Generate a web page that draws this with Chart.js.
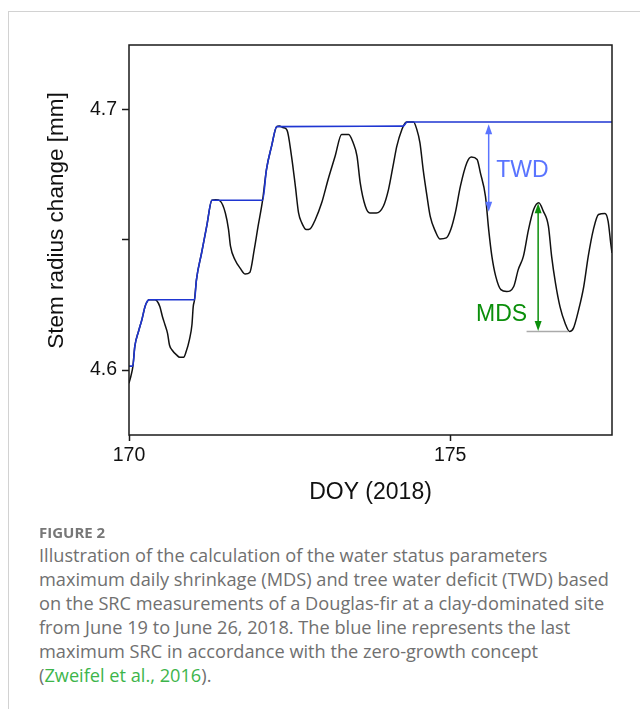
<!DOCTYPE html>
<html>
<head>
<meta charset="utf-8">
<title>Figure 2 - stem radius change</title>
<script src="https://cdn.jsdelivr.net/npm/chart.js@4.4.1/dist/chart.umd.min.js"></script>
<style>
    html, body { margin: 0; padding: 0; background: #fff; }
    body { width: 640px; height: 709px; position: relative; overflow: hidden; }
    #frame {
        position: absolute; left: 8px; top: 11px; right: 0; bottom: 0;
        border-left: 1px solid #d2d2d2; border-top: 1px solid #d2d2d2;
    }
    #chart { position: absolute; left: 0; top: 0; }
    .fig-label {
        position: absolute; left: 39px; top: 522px;
        font: 700 15px 'Open Sans', sans-serif; color: #777;
    }
    .caption {
        position: absolute; left: 39px; top: 544px;
        font: 400 18.2px/23.9px 'Open Sans', sans-serif; color: #707070;
        white-space: nowrap;
    }
    .caption span { display: block; }
    .caption a { color: #3db54b; text-decoration: none; }
</style>
</head>
<body>
<div id="frame"></div>
<canvas id="chart" width="640" height="530"></canvas>
<div class="fig-label">FIGURE 2</div>
<div class="caption">
    <span>Illustration of the calculation of the water status parameters</span>
    <span>maximum daily shrinkage (MDS) and tree water deficit (TWD) based</span>
    <span>on the SRC measurements of a Douglas-fir at a clay-dominated site</span>
    <span>from June 19 to June 26, 2018. The blue line represents the last</span>
    <span>maximum SRC in accordance with the zero-growth concept</span>
    <span>(<a>Zweifel et al., 2016</a>).</span>
</div>
<script>
// stem radius change (black) - DOY / mm
const doySrc = [
    170.00, 170.03, 170.06, 170.09, 170.15, 170.20, 170.25, 170.29, 170.32, 170.40,
    170.43, 170.48, 170.52, 170.56, 170.60, 170.63, 170.67, 170.74, 170.79, 170.85,
    170.89, 170.94, 170.98, 171.00, 171.02, 171.05, 171.13, 171.21, 171.29, 171.35,
    171.42, 171.50, 171.55, 171.58, 171.65, 171.73, 171.81, 171.88, 171.95, 172.01,
    172.08, 172.14, 172.22, 172.30, 172.34, 172.40, 172.46, 172.53, 172.59, 172.64,
    172.69, 172.76, 172.82, 172.90, 173.00, 173.10, 173.21, 173.31, 173.42, 173.49,
    173.55, 173.60, 173.68, 173.75, 173.85, 173.96, 174.04, 174.12, 174.17, 174.25,
    174.30, 174.33, 174.43, 174.48, 174.53, 174.58, 174.64, 174.69, 174.77, 174.84,
    174.94, 175.01, 175.08, 175.16, 175.26, 175.33, 175.42, 175.47, 175.55, 175.60,
    175.65, 175.71, 175.79, 175.88, 175.99, 176.06, 176.14, 176.22, 176.30, 176.38,
    176.45, 176.53, 176.58, 176.64, 176.71, 176.79, 176.86, 176.92, 177.00, 177.08,
    177.15, 177.23, 177.31, 177.41, 177.46, 177.50, 177.52
];
const srcValues = [
    4.5949, 4.5977, 4.6013, 4.6090, 4.6150, 4.6193, 4.6244, 4.6266, 4.6270, 4.6270,
    4.6267, 4.6244, 4.6206, 4.6174, 4.6141, 4.6096, 4.6077, 4.6058, 4.6049, 4.6049,
    4.6071, 4.6116, 4.6174, 4.6244, 4.6270, 4.6347, 4.6450, 4.6553, 4.6653, 4.6655,
    4.6650, 4.6604, 4.6540, 4.6476, 4.6424, 4.6392, 4.6369, 4.6375, 4.6463, 4.6553,
    4.6653, 4.6771, 4.6861, 4.6936, 4.6938, 4.6932, 4.6923, 4.6823, 4.6707, 4.6604,
    4.6566, 4.6540, 4.6543, 4.6578, 4.6643, 4.6733, 4.6823, 4.6906, 4.6906, 4.6874,
    4.6823, 4.6720, 4.6630, 4.6604, 4.6604, 4.6630, 4.6694, 4.6797, 4.6861, 4.6926,
    4.6950, 4.6954, 4.6954, 4.6926, 4.6874, 4.6771, 4.6668, 4.6591, 4.6533, 4.6504,
    4.6508, 4.6540, 4.6604, 4.6707, 4.6797, 4.6819, 4.6810, 4.6759, 4.6668, 4.6540,
    4.6437, 4.6360, 4.6309, 4.6302, 4.6321, 4.6386, 4.6437, 4.6540, 4.6617, 4.6643,
    4.6611, 4.6553, 4.6437, 4.6334, 4.6244, 4.6180, 4.6148, 4.6161, 4.6231, 4.6321,
    4.6437, 4.6540, 4.6598, 4.6602, 4.6572, 4.6488, 4.6450
];

// last maximum SRC (blue, zero-growth line)
const doyMax = [
    170.00, 170.06, 170.09, 170.15, 170.20, 170.25, 170.29, 170.32, 171.02, 171.05,
    171.13, 171.21, 171.29, 172.08, 172.14, 172.22, 172.30, 174.27, 174.33, 177.52
];
const maxValues = [
    4.6015, 4.6015, 4.6090, 4.6150, 4.6193, 4.6244, 4.6266, 4.6270, 4.6270, 4.6347,
    4.6450, 4.6553, 4.6653, 4.6653, 4.6771, 4.6861, 4.6936, 4.6938, 4.6954, 4.6954
];

// axes
const xTicks = [170, 175];
const yTicks = [4.6, 4.65, 4.7];
const yLabelled = [4.6, 4.7];
const xTitle = 'DOY (2018)';
const yTitle = 'Stem radius change [mm]';

// annotations: [doy, from, to] in data units
const twdArrow = [175.60, 4.6945, 4.6609];
const mdsArrow = [176.37, 4.6641, 4.6150];
const mdsBase = [176.19, 176.84, 4.6148];
const twdLabel = ['TWD', 4.67435];
const mdsLabel = ['MDS', 4.61885];

const FONT = "'Liberation Sans', Arial, Helvetica, sans-serif";
const TWD_COLOR = '#5a74ff';
const MDS_COLOR = '#0b8f0b';

function toPoints(xs, ys) {
    return xs.map((x, i) => ({ x: x, y: ys[i] }));
}

function drawArrow(ctx, px, pyTop, pyBottom, color) {
    const head = 10, half = 3.5;
    ctx.save();
    ctx.strokeStyle = color;
    ctx.fillStyle = color;
    ctx.lineWidth = 1.5;
    ctx.beginPath();
    ctx.moveTo(px, pyTop + head - 1);
    ctx.lineTo(px, pyBottom - head + 1);
    ctx.stroke();
    ctx.beginPath();
    ctx.moveTo(px, pyTop);
    ctx.lineTo(px - half, pyTop + head);
    ctx.lineTo(px + half, pyTop + head);
    ctx.closePath();
    ctx.fill();
    ctx.beginPath();
    ctx.moveTo(px, pyBottom);
    ctx.lineTo(px - half, pyBottom - head);
    ctx.lineTo(px + half, pyBottom - head);
    ctx.closePath();
    ctx.fill();
    ctx.restore();
}

// arrows, labels, plot box and axis titles
const figurePlugin = {
    id: 'figureExtras',
    afterDatasetsDraw(chart) {
        const { ctx, scales: { x, y } } = chart;

        // grey reference line under the daily minimum
        ctx.save();
        ctx.strokeStyle = '#aaaaaa';
        ctx.lineWidth = 1.5;
        ctx.beginPath();
        ctx.moveTo(x.getPixelForValue(mdsBase[0]), y.getPixelForValue(mdsBase[2]));
        ctx.lineTo(x.getPixelForValue(mdsBase[1]), y.getPixelForValue(mdsBase[2]));
        ctx.stroke();
        ctx.restore();

        const twdX = x.getPixelForValue(twdArrow[0]);
        drawArrow(ctx, twdX, y.getPixelForValue(twdArrow[1]), y.getPixelForValue(twdArrow[2]), TWD_COLOR);
        const mdsX = x.getPixelForValue(mdsArrow[0]);
        drawArrow(ctx, mdsX, y.getPixelForValue(mdsArrow[1]), y.getPixelForValue(mdsArrow[2]), MDS_COLOR);

        ctx.save();
        ctx.font = '23px ' + FONT;
        ctx.textBaseline = 'alphabetic';
        ctx.fillStyle = TWD_COLOR;
        ctx.textAlign = 'left';
        ctx.fillText(twdLabel[0], twdX + 7.5, y.getPixelForValue(twdLabel[1]));
        ctx.fillStyle = MDS_COLOR;
        ctx.textAlign = 'right';
        ctx.fillText(mdsLabel[0], mdsX - 11, y.getPixelForValue(mdsLabel[1]));
        ctx.restore();
    },
    afterDraw(chart) {
        const { ctx, chartArea: a } = chart;
        ctx.save();
        ctx.strokeStyle = '#1a1a1a';
        ctx.lineWidth = 1.5;
        ctx.strokeRect(a.left, a.top, a.right - a.left, a.bottom - a.top);

        ctx.fillStyle = '#111';
        ctx.font = '23px ' + FONT;
        ctx.textAlign = 'center';
        ctx.textBaseline = 'alphabetic';
        ctx.fillText(xTitle, (a.left + a.right) / 2, a.bottom + 64);

        ctx.font = '22.5px ' + FONT;
        ctx.translate(62.5, (a.top + a.bottom) / 2 - 19.5);
        ctx.rotate(-Math.PI / 2);
        ctx.fillText(yTitle, 0, 0);
        ctx.restore();
    }
};

const ctx = document.getElementById('chart').getContext('2d');
new Chart(ctx, {
    type: 'line',
    data: {
        datasets: [
            {
                label: 'Last maximum SRC',
                data: toPoints(doyMax, maxValues),
                borderColor: '#1f36d2',
                borderWidth: 1.6,
                pointRadius: 0,
                cubicInterpolationMode: 'monotone',
                order: 0
            },
            {
                label: 'SRC',
                data: toPoints(doySrc, srcValues),
                borderColor: '#111111',
                borderWidth: 1.5,
                pointRadius: 0,
                cubicInterpolationMode: 'monotone',
                order: 1
            }
        ]
    },
    options: {
        responsive: false,
        animation: false,
        devicePixelRatio: 1,
        layout: { padding: { left: 0, top: 45, right: 28, bottom: 0 } },
        plugins: {
            legend: { display: false },
            tooltip: { enabled: false }
        },
        scales: {
            x: {
                type: 'linear',
                min: 170,
                max: 177.52,
                border: { display: false },
                grid: { drawOnChartArea: false, drawTicks: true, tickLength: 6, tickColor: '#1a1a1a', tickWidth: 1.5 },
                ticks: {
                    padding: 3,
                    color: '#111',
                    font: { family: FONT, size: 19.5 },
                    maxRotation: 0
                },
                afterBuildTicks: scale => { scale.ticks = xTicks.map(v => ({ value: v })); },
                afterFit: scale => { scale.height = 95; }
            },
            y: {
                type: 'linear',
                min: 4.575,
                max: 4.725,
                border: { display: false },
                grid: { drawOnChartArea: false, drawTicks: true, tickLength: 7, tickColor: '#1a1a1a', tickWidth: 1.5 },
                ticks: {
                    padding: 5,
                    color: '#111',
                    font: { family: FONT, size: 19.5 },
                    callback: v => (yLabelled.some(t => Math.abs(t - v) < 1e-6) ? v.toFixed(1) : '')
                },
                afterBuildTicks: scale => { scale.ticks = yTicks.map(v => ({ value: v })); },
                afterFit: scale => { scale.width = 129; }
            }
        }
    },
    plugins: [figurePlugin]
});
</script>
</body>
</html>
